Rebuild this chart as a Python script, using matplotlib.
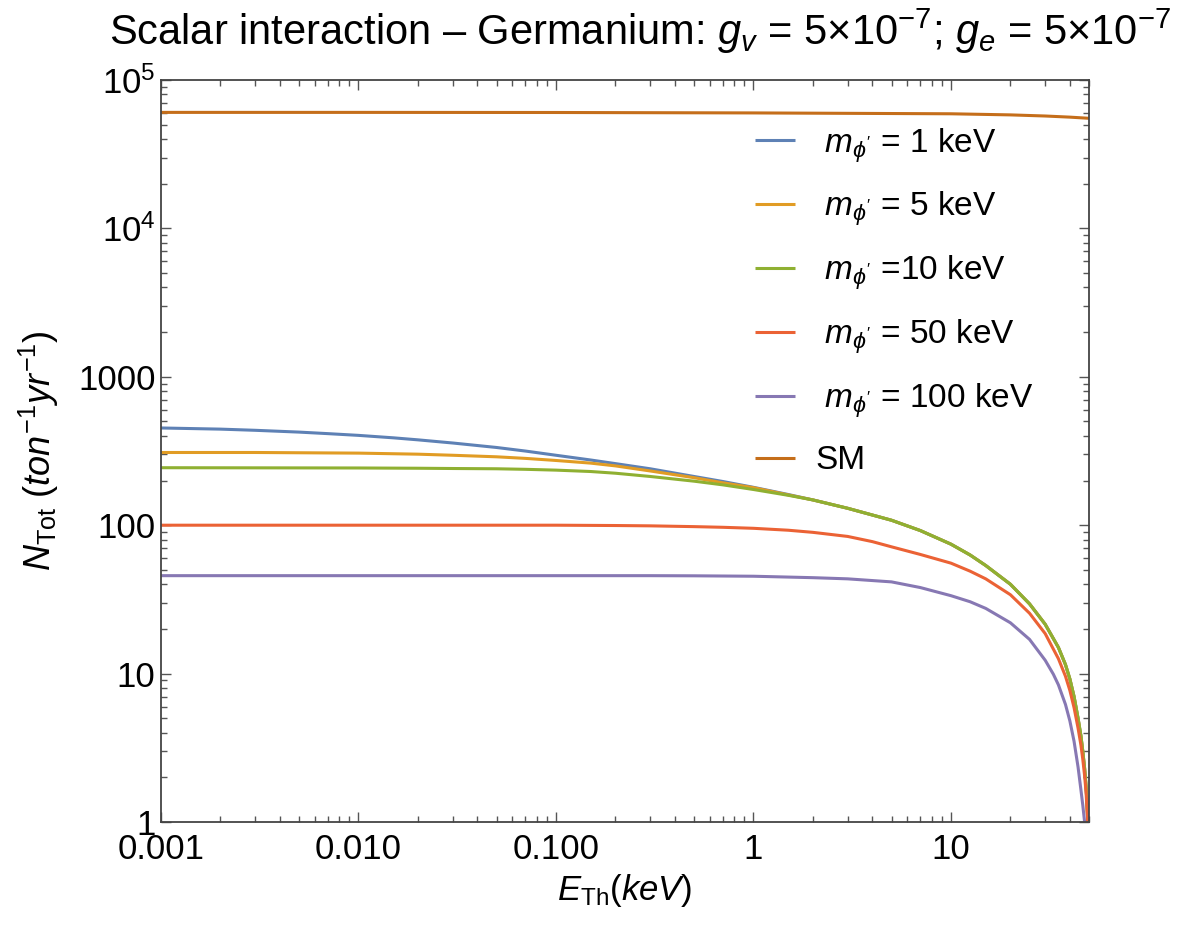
import matplotlib
matplotlib.use("Agg")
import matplotlib.pyplot as plt
from matplotlib.ticker import FixedLocator, FixedFormatter, LogLocator, NullFormatter

plt.rcParams['font.family'] = ['Liberation Sans', 'DejaVu Sans']
plt.rcParams['mathtext.fontset'] = 'custom'
plt.rcParams['mathtext.rm'] = 'Liberation Sans'
plt.rcParams['mathtext.it'] = 'Liberation Sans:italic'
plt.rcParams['mathtext.bf'] = 'Liberation Sans:bold'

# ---- data ----
x_1keV = [0.001, 0.002, 0.003, 0.005, 0.007, 0.01, 0.015, 0.02, 0.03, 0.05, 0.07, 0.1, 0.15, 0.2, 0.3, 0.5, 0.7,
          1, 1.5, 2, 3, 5, 7, 10, 12.5, 15, 20, 25, 30, 35, 38, 40, 42, 44, 45.5, 46.5, 47.5, 48.3, 48.9, 49.3, 49.6, 49.9]
n_1keV = [452, 444, 436, 424, 414, 403, 388, 376, 358, 334, 316, 296, 275, 260, 240, 213, 197,
          180, 161, 148, 130, 108, 92, 74.5, 63, 53.5, 40, 29.5, 21.5, 15, 11.5, 9.2, 7.0, 5.0, 3.8, 3.0, 2.3, 1.75, 1.3, 1.0, 0.7, 0.3]

x_5keV = [0.001, 0.003, 0.01, 0.02, 0.03, 0.05, 0.07, 0.1, 0.15, 0.2, 0.3, 0.5, 0.7,
          1, 1.5, 2, 3, 5, 7, 10, 12.5, 15, 20, 25, 30, 35, 38, 40, 42, 44, 45.5, 46.5, 47.5, 48.3, 48.9, 49.3, 49.6, 49.9]
n_5keV = [309, 309, 306, 301, 296, 289, 282, 273, 262, 251, 232, 209, 193,
          179, 160, 148, 130, 108, 92, 74.5, 63, 53.5, 40, 29.5, 21.5, 15, 11.5, 9.2, 7.0, 5.0, 3.8, 3.0, 2.3, 1.75, 1.3, 1.0, 0.7, 0.3]

x_10keV = [0.001, 0.01, 0.02, 0.03, 0.05, 0.07, 0.1, 0.15, 0.2, 0.3, 0.5, 0.7,
           1, 1.5, 2, 3, 5, 7, 10, 12.5, 15, 20, 25, 30, 35, 38, 40, 42, 44, 45.5, 46.5, 47.5, 48.3, 48.9, 49.3, 49.6, 49.9]
n_10keV = [244, 243, 242, 241, 240, 238, 235, 230, 224, 213, 198, 187,
           174, 159, 148, 130, 108, 92, 74.5, 63, 53.5, 40, 29.5, 21.5, 15, 11.5, 9.2, 7.0, 5.0, 3.8, 3.0, 2.3, 1.75, 1.3, 1.0, 0.7, 0.3]

x_50keV = [0.001, 0.01, 0.1, 0.2, 0.3, 0.5, 0.7, 1, 1.5, 2, 3, 4, 5, 7, 10, 12.5, 15, 20, 25, 30, 35, 38, 40, 42,
           44, 45.5, 46.5, 47.5, 48.3, 48.9, 49.3, 49.6, 49.9]
n_50keV = [100, 100, 100, 99.5, 99, 97.8, 96.8, 95.3, 92.5, 89.5, 84, 77.5, 71.5, 63.5, 55.5, 49, 43.5, 34, 25.5, 18.6, 12.6, 9.6, 7.7, 5.9,
           4.3, 3.3, 2.65, 2.05, 1.6, 1.2, 0.95, 0.65, 0.3]

x_100keV = [0.001, 0.01, 0.1, 0.3, 0.5, 1, 2, 3, 5, 7, 10, 12.5, 15, 20, 25, 30, 33, 35, 38, 40, 42, 44,
            45.5, 46.5, 47.5, 48.2, 48.8]
n_100keV = [45.7, 45.7, 45.7, 45.7, 45.6, 45.3, 44.3, 43.5, 41.5, 38, 33.5, 30.5, 27.5, 22, 17, 12.3, 9.9, 8.4, 6.2, 4.8, 3.5, 2.35,
            1.65, 1.3, 1.0, 0.75, 0.5]

x_SM = [0.001, 0.01, 0.1, 1, 10, 20, 30, 40, 50]
n_SM = [60500, 60500, 60400, 60000, 59200, 58200, 57200, 56200, 55200]

labels = [" $m_{\\phi'}$ = 1 keV", " $m_{\\phi'}$ = 5 keV", " $m_{\\phi'}$ =10 keV",
          " $m_{\\phi'}$ = 50 keV", " $m_{\\phi'}$ = 100 keV", "SM"]
colors = ['#5E81B5', '#E19C24', '#8FB032', '#EB6235', '#8778B3', '#C56E1A']

xtick_vals = [0.001, 0.01, 0.1, 1, 10]
xtick_labels = ['0.001', '0.010', '0.100', '1', '10']
ytick_vals = [1, 10, 100, 1000, 1e4, 1e5]
ytick_labels = ['1', '10', '100', '1000', '$10^4$', '$10^5$']

# ---- figure ----
fig = plt.figure(figsize=(12.01, 9.26), dpi=100)
L, R, T, B = 161, 1089, 80, 822
ax = fig.add_axes([L/1201, 1-B/926, (R-L)/1201, (B-T)/926])

series = [(x_1keV, n_1keV), (x_5keV, n_5keV), (x_10keV, n_10keV),
          (x_50keV, n_50keV), (x_100keV, n_100keV), (x_SM, n_SM)]
for (xs, ys), lab, col in zip(series, labels, colors):
    ax.plot(xs, ys, color=col, lw=2.2, label=lab, solid_capstyle='butt', solid_joinstyle='round')

ax.set_xscale('log')
ax.set_yscale('log')
ax.set_xlim(0.001, 50)
ax.set_ylim(1, 1e5)

ax.xaxis.set_major_locator(FixedLocator(xtick_vals))
ax.xaxis.set_major_formatter(FixedFormatter(xtick_labels))
ax.xaxis.set_minor_locator(LogLocator(base=10, subs=range(2, 10), numticks=20))
ax.xaxis.set_minor_formatter(NullFormatter())
ax.yaxis.set_major_locator(FixedLocator(ytick_vals))
ax.yaxis.set_major_formatter(FixedFormatter(ytick_labels))
ax.yaxis.set_minor_locator(LogLocator(base=10, subs=range(2, 10), numticks=20))
ax.yaxis.set_minor_formatter(NullFormatter())

for s in ax.spines.values():
    s.set_color('#444444')
    s.set_linewidth(1.3)
ax.tick_params(which='both', direction='in', top=True, right=True, color='#555555', width=1.0)
ax.tick_params(which='major', length=7, labelsize=25, pad=8)
ax.tick_params(axis='y', which='major', pad=4)
ax.tick_params(which='minor', length=4)

ax.set_xlabel("$E_{\\mathrm{Th}}(keV)$", fontsize=25, labelpad=4)
ax.set_ylabel("$N_{\\mathrm{Tot}}\\ (ton^{-1}yr^{-1})$", fontsize=26, labelpad=12)
fig.text(640/1201, 1-31/926,
         "Scalar interaction – Germanium: $g_v$ = 5×10$^{-7}$; $g_e$ = 5×10$^{-7}$",
         ha='center', va='center', fontsize=30)

leg = ax.legend(loc='upper left', bbox_to_anchor=((755-L)/(R-L), 1-(126-T)/(B-T)),
                frameon=False, fontsize=24, handlelength=1.2, handletextpad=0.6,
                labelspacing=0.76, borderaxespad=0, borderpad=0)

fig.savefig('out.png', dpi=100)
